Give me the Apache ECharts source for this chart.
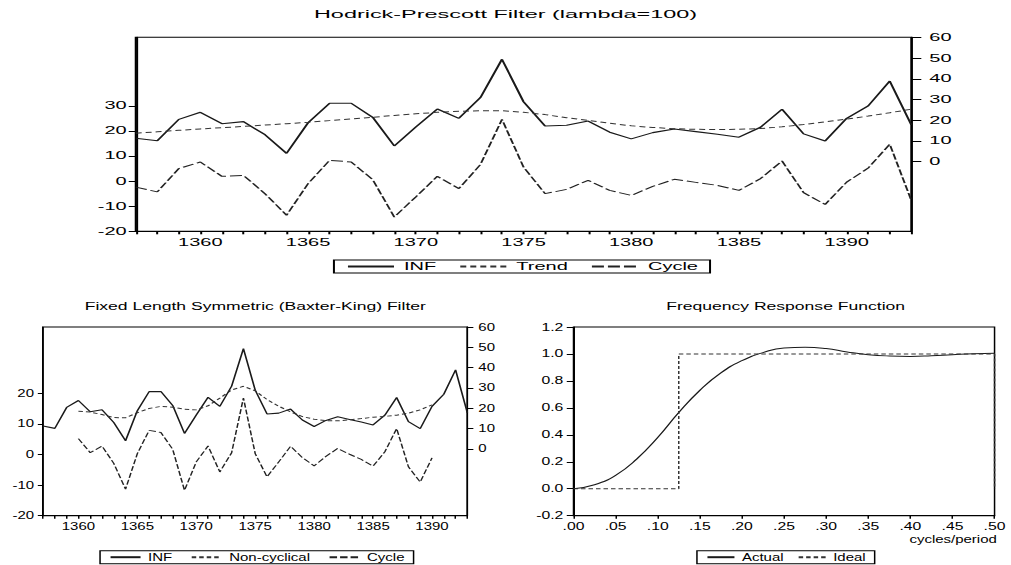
<!DOCTYPE html>
<html><head><meta charset="utf-8">
<script src="https://cdn.jsdelivr.net/npm/echarts@6/dist/echarts.min.js"></script>
<style>
html,body{margin:0;padding:0;background:#fff;width:1011px;height:565px;overflow:hidden;position:relative}
.c{position:absolute;transform-origin:0 0}
#top{left:0;top:0;width:505px;height:285px;transform:scaleX(2.002)}
#bl{left:0;top:280px;width:333px;height:285px;transform:scaleX(1.5)}
#br{left:500px;top:280px;width:340px;height:285px;transform:scaleX(1.5)}
</style></head><body>
<div id="top" class="c"></div><div id="bl" class="c"></div><div id="br" class="c"></div>
<script>
// ---------- data ----------
const years = [1357,1358,1359,1360,1361,1362,1363,1364,1365,1366,1367,1368,1369,1370,1371,1372,1373,1374,1375,1376,1377,1378,1379,1380,1381,1382,1383,1384,1385,1386,1387,1388,1389,1390,1391,1392,1393];
const inf = [11.3,10.1,20.4,23.8,18.3,19.3,13.0,4.0,18.8,28.2,28.2,21.4,7.6,16.7,25.4,20.9,30.9,49.4,28.9,17.2,17.6,19.6,14.2,11.0,14.0,15.8,14.5,13.2,11.8,16.6,25.3,13.4,10.0,20.9,26.9,38.9,17.7];
const hpTrend = [13.7,14.4,15.1,15.8,16.4,17.0,17.7,18.3,19.0,19.8,20.6,21.4,22.3,23.1,23.8,24.3,24.6,24.6,23.8,22.7,21.2,19.9,18.5,17.3,16.5,15.9,15.6,15.5,15.6,16.0,16.8,17.9,19.2,20.5,22.0,23.6,25.3];
const hpCycle = [-2.4,-4.3,5.0,7.6,1.9,2.3,-5.0,-13.6,-1.0,8.3,7.6,0.6,-14.3,-6.3,1.9,-3.0,6.6,24.6,5.6,-5.0,-3.3,0.3,-3.7,-5.7,-2.1,0.7,-0.5,-1.7,-3.7,1.0,8.0,-4.6,-9.3,-0.4,5.2,14.7,-7.7];
const bkNonCyc = [null,null,null,18.5,18.1,16.9,15.4,15.3,17.8,19.9,20.9,20.5,19.5,19.2,21.2,25.0,29.0,30.8,28.6,24.3,21.0,18.2,15.9,14.6,13.9,13.8,14.3,14.9,15.6,16.0,16.6,17.6,19.2,21.7,null,null,null];
const bkCycle = [null,null,null,5.2,0.6,2.8,-2.9,-11.3,0.3,7.9,7.2,1.7,-11.7,-2.4,2.8,-5.7,0.6,18.5,0.3,-7.3,-2.4,2.7,-1.0,-3.7,-0.6,2.0,0.1,-1.6,-3.8,0.9,8.5,-4.0,-9.0,-1.1,null,null,null];
const freq = [0,0.025,0.05,0.075,0.1,0.125,0.15,0.175,0.2,0.225,0.25,0.275,0.3,0.325,0.35,0.375,0.4,0.425,0.45,0.475,0.5];
const actual = [0,0.03,0.10,0.22,0.38,0.565,0.73,0.86,0.95,1.01,1.045,1.05,1.04,1.015,0.995,0.985,0.982,0.987,0.995,1.002,1.005];
const idealX = [0,0.125,0.125,0.5,0.5];
const idealY = [0,0,1,1,0];
const hpLeftTicks = [-20,-10,0,10,20,30];
const hpRightTicks = [0,10,20,30,40,50,60];
const bkLeftTicks = [-20,-10,0,10,20];
const bkRightTicks = [0,10,20,30,40,50,60];

// ---------- helpers ----------
const FONT = "'Liberation Sans', Arial, Helvetica, sans-serif";
const txt = (s) => ({fontFamily: FONT, fontSize: s, color: '#000', fontWeight: 'normal'});
const pairs = (xs, ys) => xs.map((x, i) => [x, ys[i]]);
function yearAxis() {
  return {type:'value', min:1357, max:1393, interval:1, splitLine:{show:false},
    axisLine:{show:true, onZero:false, lineStyle:{color:'#000', width:1}},
    axisTick:{show:true, length:3, lineStyle:{color:'#000', width:1}},
    axisLabel:Object.assign({margin:6, formatter:v => (v % 5 === 0 ? String(v) : '')}, txt(10))};
}
function yAxis(pos, min, max, ticks, tickLen, margin) {
  return {type:'value', position:pos, min:min, max:max, splitLine:{show:false},
    axisLine:{show:true, onZero:false, lineStyle:{color:'#000', width:1}},
    axisTick:{show:true, length:tickLen, customValues:ticks, lineStyle:{color:'#000', width:1}},
    axisLabel:Object.assign({margin:margin, customValues:ticks, formatter:v => String(v)}, txt(10))};
}
function line(name, data, yIdx, type, width, color) {
  return {name:name, type:'line', yAxisIndex:yIdx, data:data, symbol:'none', showSymbol:false,
    silent:true, connectNulls:false, itemStyle:{color:color}, lineStyle:{color:color, width:width, type:type}};
}
function legend(left, top, names, iw, gap) {
  return {left:left, top:top, data:names, itemWidth:iw, itemHeight:10, itemGap:gap,
    padding:[1.5,6,1.5,6], borderColor:'#000', borderWidth:1, selectedMode:false,
    itemStyle:{opacity:0}, textStyle:txt(10)};
}
const grid = (l, r, t, b) => ({left:l, right:r, top:t, bottom:b, show:true, borderColor:'#000', borderWidth:1, containLabel:false});

// ---------- top: Hodrick-Prescott ----------
const cTop = echarts.init(document.getElementById('top'), null, {renderer:'svg'});
cTop.setOption({
  animation:false,
  title:{text:'Hodrick-Prescott Filter (lambda=100)', left:'center', top:8, padding:0, textStyle:txt(11.7)},
  grid:grid(67.8, 49.8, 37.3, 53.7),
  legend:legend(166.8, 260, ['INF','Trend','Cycle'], 23, 11),
  xAxis:yearAxis(),
  yAxis:[yAxis('left', -20, 57.3, hpLeftTicks, 3.5, 4.5), yAxis('right', -33.6, 60, hpRightTicks, 5, 9)],
  series:[
    line('INF', pairs(years, inf), 1, 'solid', 1.1, '#1a1a1a'),
    line('Trend', pairs(years, hpTrend), 1, [3,2], 1, '#333'),
    line('Cycle', pairs(years, hpCycle), 0, [6,2], 1, '#222')
  ]
});

// ---------- bottom-left: Baxter-King ----------
const cBL = echarts.init(document.getElementById('bl'), null, {renderer:'svg'});
cBL.setOption({
  animation:false,
  title:{text:'Fixed Length Symmetric (Baxter-King) Filter', left:170.2, textAlign:'center', top:20, padding:0, textStyle:txt(11.7)},
  grid:grid(28.7, 21.3, 47, 49.3),
  legend:legend(66.7, 270.7, ['INF','Non-cyclical','Cycle'], 20, 12),
  xAxis:yearAxis(),
  yAxis:[yAxis('left', -20, 41.7, bkLeftTicks, 3.5, 6), yAxis('right', -32.9, 60, bkRightTicks, 4, 7.3)],
  series:[
    line('INF', pairs(years, inf), 1, 'solid', 1.1, '#1a1a1a'),
    line('Non-cyclical', pairs(years, bkNonCyc), 1, [3,2], 1, '#333'),
    line('Cycle', pairs(years, bkCycle), 0, [5,2], 1, '#222')
  ]
});

// ---------- bottom-right: Frequency response ----------
const cBR = echarts.init(document.getElementById('br'), null, {renderer:'svg'});
cBR.setOption({
  animation:false,
  title:[
    {text:'Frequency Response Function', left:190.4, textAlign:'center', top:20, padding:0, textStyle:txt(11.7)},
    {text:'cycles/period', right:8.7, top:254, padding:0, textStyle:txt(10)}
  ],
  grid:grid(49, 8.2, 47, 49.3),
  legend:legend(131.3, 270.7, ['Actual','Ideal'], 18, 9),
  xAxis:{type:'value', min:0, max:0.5, interval:0.05, splitLine:{show:false},
    axisLine:{show:true, onZero:false, lineStyle:{color:'#000', width:1}},
    axisTick:{show:true, length:3, lineStyle:{color:'#000', width:1}},
    axisLabel:Object.assign({margin:5, formatter:v => v.toFixed(2).replace(/^0/, '')}, txt(10.5))},
  yAxis:{type:'value', min:-0.2, max:1.2, interval:0.2, splitLine:{show:false},
    axisLine:{show:true, onZero:false, lineStyle:{color:'#000', width:1}},
    axisTick:{show:true, length:4.5, lineStyle:{color:'#000', width:1}},
    axisLabel:Object.assign({margin:6.8, formatter:v => v.toFixed(1)}, txt(10.5))},
  series:[
    {name:'Actual', type:'line', data:pairs(freq, actual), smooth:true, symbol:'none', showSymbol:false, silent:true,
      itemStyle:{color:'#1a1a1a'}, lineStyle:{color:'#1a1a1a', width:1, type:'solid'}},
    {name:'Ideal', type:'line', data:pairs(idealX, idealY), symbol:'none', showSymbol:false, silent:true,
      itemStyle:{color:'#333'}, lineStyle:{color:'#333', width:1, type:[3,2]}}
  ]
});
</script>
</body></html>
